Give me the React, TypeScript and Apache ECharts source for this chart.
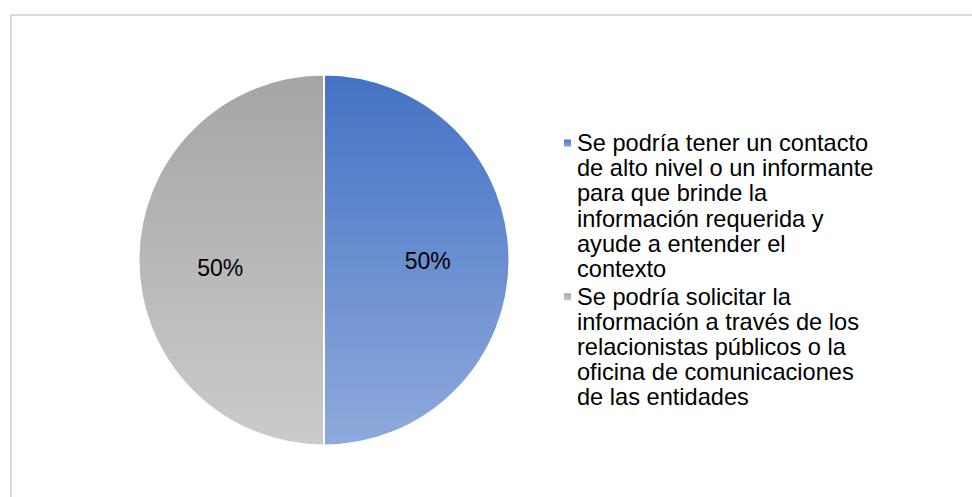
import React, { useEffect, useRef } from "react";
import * as echarts from "echarts";

const categories = [
  "Se podría tener un contacto de alto nivel o un informante para que brinde la información requerida y ayude a entender el contexto",
  "Se podría solicitar la información a través de los relacionistas públicos o la oficina de comunicaciones de las entidades",
];
const legendLines = [
  ["Se podría tener un contacto", "de alto nivel o un informante", "para que brinde la", "información requerida y", "ayude a entender el", "contexto"],
  ["Se podría solicitar la", "información a través de los", "relacionistas públicos o la", "oficina de comunicaciones", "de las entidades"],
];
const values = [50, 50];

const FONT = "Liberation Sans, Arial, sans-serif";
const LINE_H = 25.2;
const FIRST_LINE_Y = 143;
const ITEM_STEP = 153.7;

export default function App() {
  const ref = useRef<HTMLDivElement>(null);
  useEffect(() => {
    if (!ref.current) return;
    const chart = echarts.init(ref.current, null, { renderer: "svg" });
    const gradients = [
      new echarts.graphic.LinearGradient(0, 0, 0, 1, [
        { offset: 0, color: "#4472C4" },
        { offset: 1, color: "#8FAADC" },
      ]),
      new echarts.graphic.LinearGradient(0, 0, 0, 1, [
        { offset: 0, color: "#A5A5A5" },
        { offset: 1, color: "#CBCBCB" },
      ]),
    ];
    const labelOffsets = [
      [8, 1],
      [-8, 8],
    ];
    const n0 = legendLines[0].length;
    const n1 = legendLines[1].length;
    // each legend text gets (n-1) leading blank lines so its first real line sits beside the icon
    const block0 = (2 * n0 - 1) * LINE_H;
    const block1 = (2 * n1 - 1) * LINE_H;
    const legendTop = FIRST_LINE_Y - block0 / 2;
    const moveY = block0 - (block0 - block1) / 2;
    const gap = ITEM_STEP - moveY;
    chart.setOption({
      animation: false,
      backgroundColor: "#ffffff",
      graphic: [
        {
          type: "rect",
          shape: { x: 11, y: 15, width: 1000, height: 1000 },
          style: { fill: "none", stroke: "#D9D9D9", lineWidth: 2 },
          silent: true,
        },
      ],
      legend: {
        orient: "vertical",
        left: 562,
        top: legendTop,
        padding: 0,
        itemWidth: 9,
        itemHeight: 9,
        itemGap: gap,
        icon: "rect",
        data: categories,
        formatter: (name: string) => {
          const lines = legendLines[categories.indexOf(name)];
          return new Array(lines.length - 1).fill("").concat(lines).join("\n");
        },
        textStyle: {
          fontFamily: FONT,
          fontSize: 23.6,
          lineHeight: LINE_H,
          color: "#000000",
        },
      },
      series: [
        {
          type: "pie",
          center: [324, 260],
          radius: [0, 185.5],
          startAngle: 90,
          clockwise: true,
          itemStyle: { borderColor: "#ffffff", borderWidth: 2 },
          label: {
            show: true,
            position: "inside",
            formatter: "{d}%",
            fontFamily: FONT,
            fontSize: 23,
            color: "#000000",
          },
          labelLine: { show: false },
          emphasis: { disabled: true },
          data: categories.map((name, i) => ({
            name,
            value: values[i],
            itemStyle: { color: gradients[i] },
            label: { offset: labelOffsets[i] },
          })),
        },
      ],
    });
    return () => chart.dispose();
  }, []);
  return (
    <div
      ref={ref}
      style={{ position: "fixed", left: 0, top: 0, width: 972, height: 497 }}
    />
  );
}
